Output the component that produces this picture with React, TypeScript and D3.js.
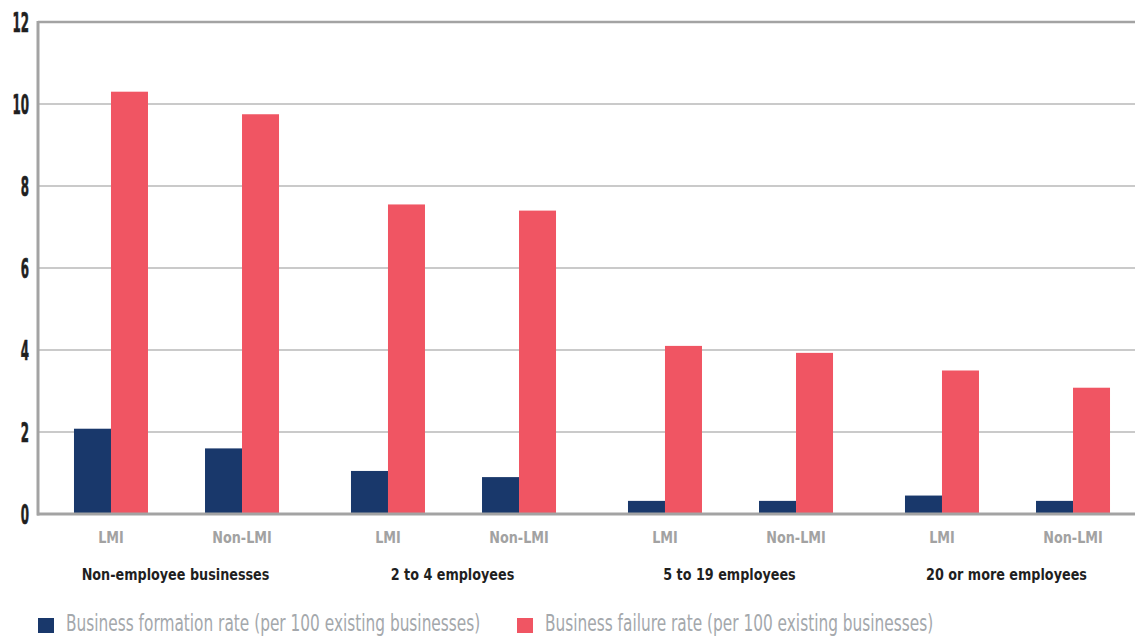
import React from "react";
import * as d3 from "d3";

const categories = [
  "Non-employee businesses",
  "2 to 4 employees",
  "5 to 19 employees",
  "20 or more employees",
];
const groups = ["LMI", "Non-LMI"];
const seriesKeys = ["formation", "failure"];
const seriesLabels = [
  "Business formation rate (per 100 existing businesses)",
  "Business failure rate (per 100 existing businesses)",
];
// Ordered as category × group (LMI, Non-LMI)
const formationRate = [2.08, 1.6, 1.05, 0.9, 0.32, 0.32, 0.45, 0.32];
const failureRate = [10.3, 9.75, 7.55, 7.4, 4.1, 3.93, 3.5, 3.08];
const yTicks = [0, 2, 4, 6, 8, 10, 12];

const W = 1135;
const H = 638;
const NAVY = "#19386b";
const RED = "#f05563";
const FONT = "'DejaVu Sans', sans-serif";

// Horizontally condensed text, anchored at (x, y)
function CText({
  x,
  y,
  sx,
  anchor = "start",
  size,
  weight = "normal",
  fill,
  dy,
  stroke,
  children,
}: {
  x: number;
  y: number;
  sx: number;
  anchor?: string;
  size: number;
  weight?: string;
  fill: string;
  dy?: string;
  stroke?: number;
  children: React.ReactNode;
}) {
  return (
    <g transform={`translate(${x},${y}) scale(${sx},1)`}>
      <text
        x={0}
        y={0}
        dy={dy}
        textAnchor={anchor}
        fontFamily={FONT}
        fontSize={size}
        fontWeight={weight}
        fill={fill}
        stroke={stroke ? fill : undefined}
        strokeWidth={stroke}
        strokeLinejoin="round"
      >
        {children}
      </text>
    </g>
  );
}

export default function App() {
  const y = d3.scaleLinear().domain([0, 12]).range([514, 22]);
  const x0 = d3.scaleBand<string>().domain(categories).range([38, 1146]);
  const x1 = d3
    .scaleBand<string>()
    .domain(groups)
    .range([0, x0.bandwidth()])
    .paddingInner(0)
    .paddingOuter(0.057);
  const x2 = d3.scaleBand<string>().domain(seriesKeys).range([-37, 37]);

  const bars: { x: number; v: number; key: string }[] = [];
  categories.forEach((c, ci) => {
    groups.forEach((g, gi) => {
      const i = ci * 2 + gi;
      const cx = (x0(c) as number) + (x1(g) as number) + x1.bandwidth() / 2;
      bars.push({ x: cx, v: formationRate[i], key: "formation" });
      bars.push({ x: cx, v: failureRate[i], key: "failure" });
    });
  });

  const colors = d3.scaleOrdinal<string, string>().domain(seriesKeys).range([NAVY, RED]);

  return (
    <svg
      width={W}
      height={H}
      style={{ position: "absolute", left: 0, top: 0, background: "#fff" }}
    >
      {/* gridlines */}
      {yTicks
        .filter((t) => t > 0)
        .map((t) => (
          <line
            key={"g" + t}
            x1={38}
            x2={W}
            y1={y(t)}
            y2={y(t)}
            stroke={t === 12 ? "#a3a3a3" : "#b8b8b8"}
            strokeWidth={t === 12 ? 2.5 : 1.5}
          />
        ))}
      {/* bars */}
      {bars.map((b, k) => (
        <rect
          key={k}
          x={b.x + (x2(b.key) as number)}
          width={x2.bandwidth()}
          y={y(b.v)}
          height={y(0) - y(b.v)}
          fill={colors(b.key)}
        />
      ))}
      {/* axes */}
      <line x1={38} x2={38} y1={y(12) - 1} y2={y(0) + 1.5} stroke="#a3a3a3" strokeWidth={3} />
      <line x1={37} x2={W} y1={y(0)} y2={y(0)} stroke="#a3a3a3" strokeWidth={3} />
      {/* y tick labels */}
      {yTicks.map((t) => (
        <CText
          key={"t" + t}
          x={29}
          y={y(t)}
          dy="0.36em"
          sx={0.44}
          anchor="end"
          size={27}
          weight="bold"
          fill="#1f1f1f"
          stroke={0.7}
        >
          {t}
        </CText>
      ))}
      {/* group labels */}
      {categories.map((c) =>
        groups.map((g) => (
          <CText
            key={c + g}
            x={(x0(c) as number) + (x1(g) as number) + x1.bandwidth() / 2}
            y={543}
            sx={0.8}
            anchor="middle"
            size={16}
            weight="bold"
            fill="#a2a2a2"
          >
            {g}
          </CText>
        ))
      )}
      {/* category labels */}
      {categories.map((c) => (
        <CText
          key={"c" + c}
          x={(x0(c) as number) + x0.bandwidth() / 2 - 1}
          y={580}
          sx={0.775}
          anchor="middle"
          size={16.5}
          weight="bold"
          fill="#1f1f1f"
        >
          {c}
        </CText>
      ))}
      {/* legend */}
      {seriesKeys.map((k, i) => {
        const lx = i === 0 ? 38 : 517;
        return (
          <g key={"l" + k}>
            <rect x={lx} y={618} width={16} height={15} fill={colors(k)} />
            <CText x={lx + 28} y={631} sx={0.683} size={22.5} fill="#a4a8ac">
              {seriesLabels[i]}
            </CText>
          </g>
        );
      })}
    </svg>
  );
}
